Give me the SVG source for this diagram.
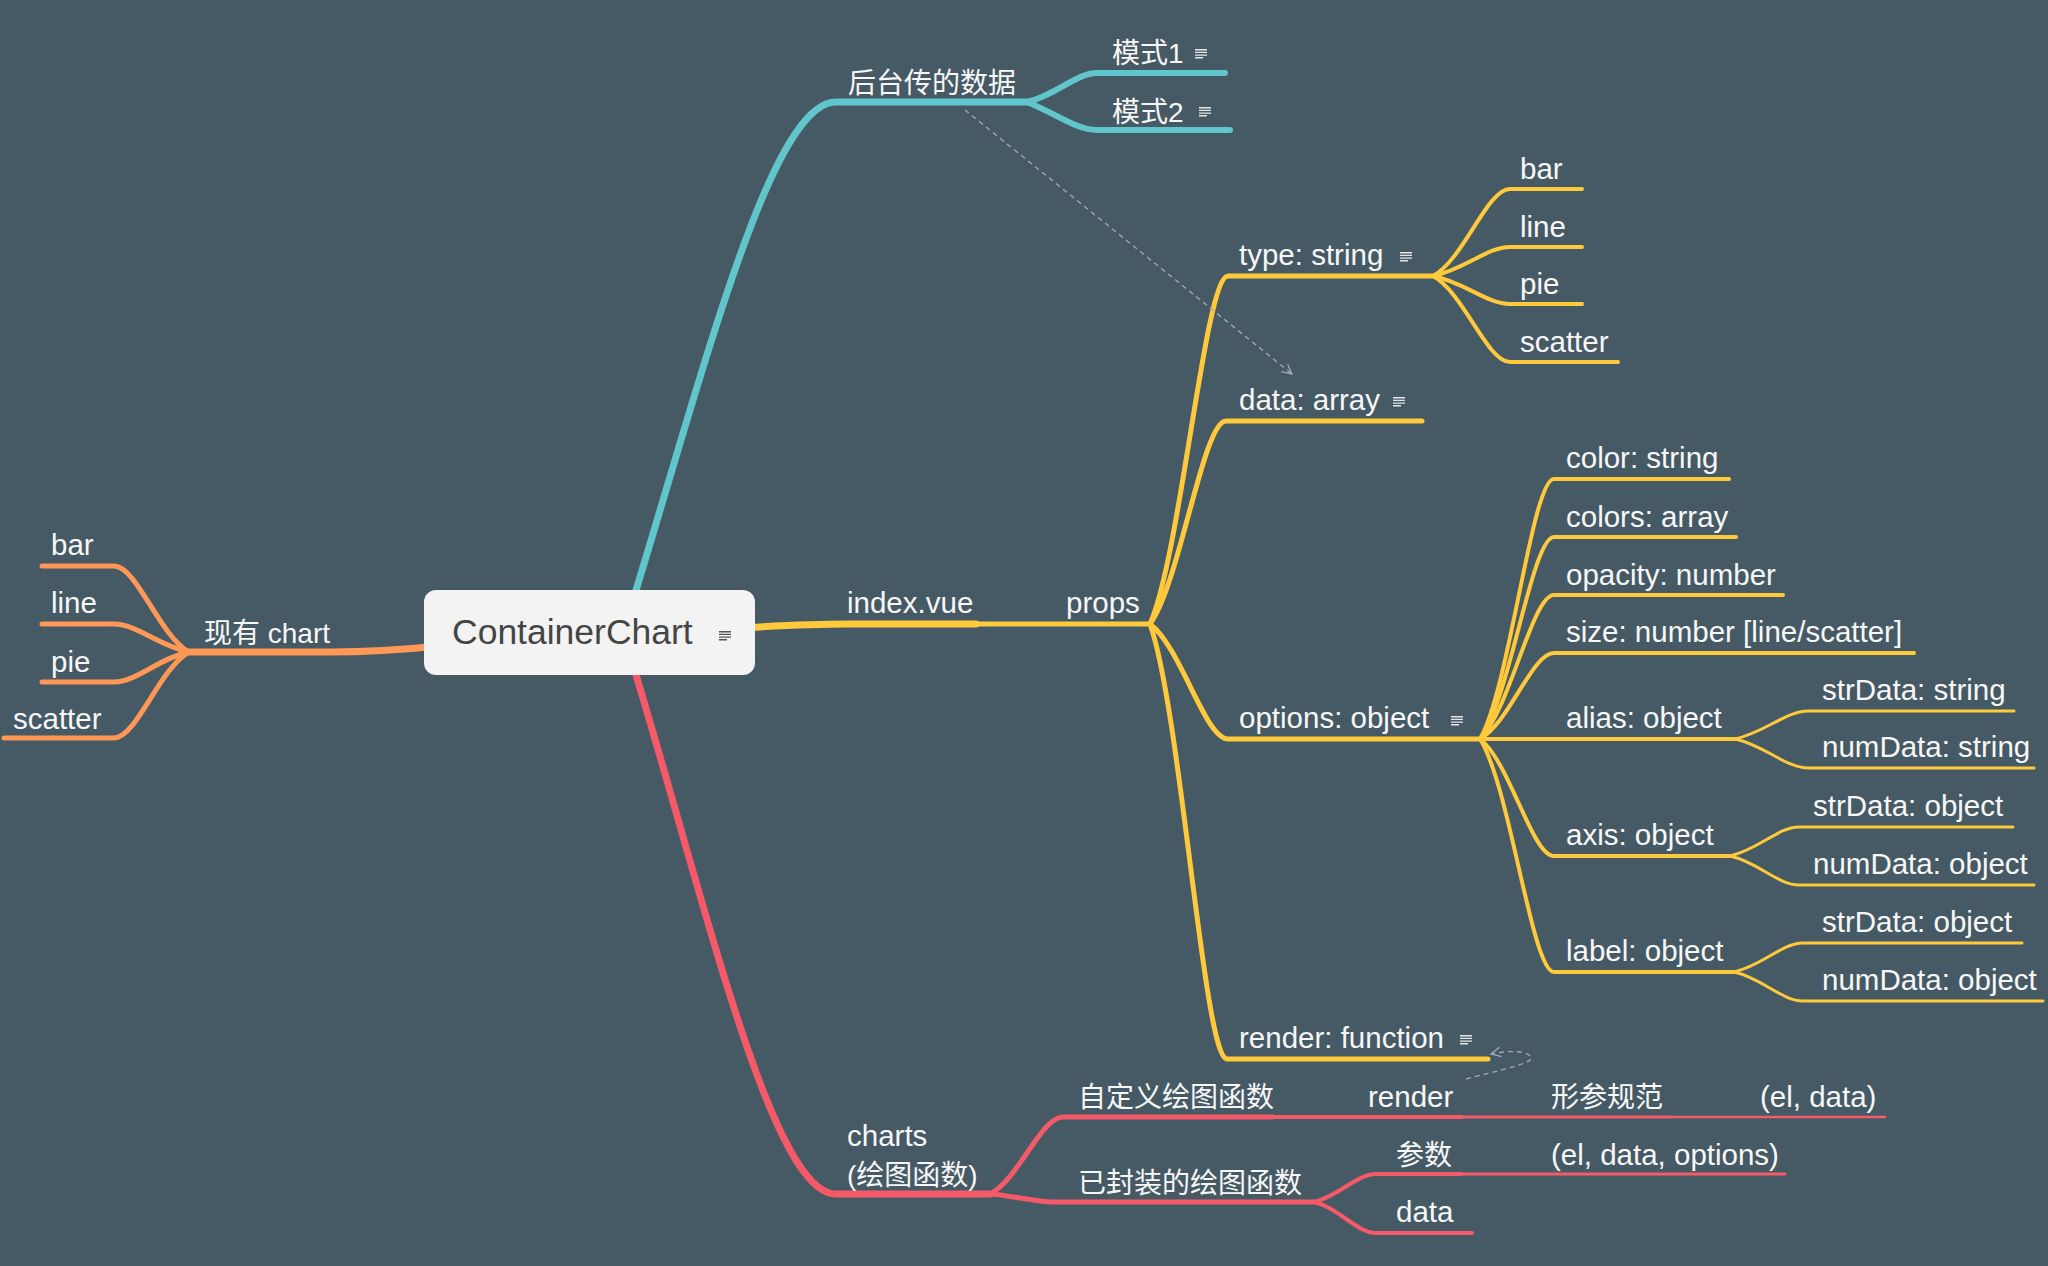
<svg xmlns="http://www.w3.org/2000/svg" xmlns:xlink="http://www.w3.org/1999/xlink" width="2048" height="1266" viewBox="0 0 2048 1266">
<defs>
<style>
.bg{fill:#465a65}
text{font-family:"Liberation Sans","Noto Sans CJK SC",sans-serif;font-size:29.5px;fill:#f7f7f7}
text.cjk{font-size:28px}
.c{fill:none;stroke-linecap:round;stroke-linejoin:round}
.o{stroke:#ff9757}
.t{stroke:#61c6cb}
.y{stroke:#ffc93c}
.r{stroke:#f65a69}
.w7{stroke-width:7}
.w6{stroke-width:6}
.w5{stroke-width:5}
.w4{stroke-width:4}
.w3{stroke-width:3}
.dash{fill:none;stroke:#a3abb0;stroke-width:1.3;stroke-dasharray:5 4}
.ni{stroke:#e3e6e8;stroke-width:1.4;fill:none}
.nid{stroke:#555;stroke-width:1.4;fill:none}
.root-box{fill:#f3f3f3}
text.root-text{font-size:35.5px;fill:#454545}
</style>
<g id="note"><path d="M0 0.7H12M0 3.4H12M0 6.1H12M0 8.8H8"/></g>
<marker id="arrow" viewBox="0 0 10 10" refX="9" refY="5" markerWidth="12" markerHeight="12" markerUnits="userSpaceOnUse" orient="auto"><path d="M1 1 L9 5 L1 9" fill="none" stroke="#a3abb0" stroke-width="1.1"/></marker>
</defs>
<rect class="bg" x="0" y="0" width="2048" height="1266"/>

<g id="connectors">
  <!-- orange -->
  <path class="c o w7" d="M440 646 C400 650 365 652 330 652 L189 652"/>
  <path class="c o w5" d="M189 652 C159 635 136.5 566 114 566 L42 566"/>
  <path class="c o w5" d="M189 652 C159 646 136.5 624 114 624 L42 624"/>
  <path class="c o w5" d="M189 652 C159 658 136.5 682 114 682 L42 682"/>
  <path class="c o w5" d="M189 652 C159 669 136.5 738 114 738 L4 738"/>
  <!-- teal -->
  <path class="c t w7" d="M630 610 C705 366 771 102 836 102 L1027 102"/>
  <path class="c t w6" d="M1027 102 C1055 96 1076 73 1097 73 L1225 73"/>
  <path class="c t w6" d="M1027 102 C1055 113 1076 130 1097 130 L1230 130"/>
  <!-- yellow -->
  <path class="c y w7" d="M740 628 C790 625 815 624 847 624 L976 624"/>
  <path class="c y w5" d="M976 624 L1150 624"/>
  <path class="c y w5" d="M1150 624 C1181 554 1205 276 1228 276 L1433 276"/>
  <path class="c y w5" d="M1150 624 C1180 583 1203 421 1226 421 L1422 421"/>
  <path class="c y w5" d="M1150 624 C1181 647 1205 739 1228 739 L1480 739"/>
  <path class="c y w5" d="M1150 624 C1181 711 1204 1059 1227 1059 L1488 1059"/>
  <path class="c y w4" d="M1433 276 C1464 259 1487 189 1510 189 L1582 189"/>
  <path class="c y w4" d="M1433 276 C1464 270 1487 247 1510 247 L1582 247"/>
  <path class="c y w4" d="M1433 276 C1464 282 1487 304 1510 304 L1582 304"/>
  <path class="c y w4" d="M1433 276 C1464 293 1487 362 1510 362 L1618 362"/>
  <path class="c y w4" d="M1480 739 C1510 687 1532 479 1554 479 L1729 479"/>
  <path class="c y w4" d="M1480 739 C1510 699 1532 537 1554 537 L1736 537"/>
  <path class="c y w4" d="M1480 739 C1510 710 1532 595 1554 595 L1783 595"/>
  <path class="c y w4" d="M1480 739 C1510 722 1532 653 1554 653 L1914 653"/>
  <path class="c y w4" d="M1480 739 L1735 739"/>
  <path class="c y w4" d="M1480 739 C1510 762 1532 856 1554 856 L1730 856"/>
  <path class="c y w4" d="M1480 739 C1510 786 1532 972 1554 972 L1734 972"/>
  <path class="c y w3" d="M1735 739 C1764 733 1786 711 1808 711 L2014 711"/>
  <path class="c y w3" d="M1735 739 C1764 745 1786 768 1808 768 L2034 768"/>
  <path class="c y w3" d="M1730 856 C1758 850 1778 827 1799 827 L2013 827"/>
  <path class="c y w3" d="M1730 856 C1758 862 1778 885 1799 885 L2034 885"/>
  <path class="c y w3" d="M1734 972 C1762 966 1782 943 1803 943 L2022 943"/>
  <path class="c y w3" d="M1734 972 C1762 978 1782 1001 1803 1001 L2043 1001"/>
  <!-- red -->
  <path class="c r w7" d="M630 655 C705 900 771 1194 836 1194 L990 1194"/>
  <path class="c r w5" d="M990 1194 C1019 1179 1041 1117 1063 1117 L1273 1117"/>
  <path class="c r w4" d="M1273 1117 L1461 1117"/>
  <path class="c r w3" d="M1461 1117 L1670 1117"/>
  <path class="c r" style="stroke-width:2.5" d="M1670 1117 L1885 1117"/>
  <path class="c r w5" d="M990 1194 C1015 1196 1035 1202 1053 1202 L1314 1202"/>
  <path class="c r w4" d="M1314 1202 C1339 1196 1357 1174 1376 1174 L1461 1174"/>
  <path class="c r w3" d="M1461 1174 L1785 1174"/>
  <path class="c r w4" d="M1314 1202 C1339 1208 1357 1233 1376 1233 L1472 1233"/>
  <!-- dashed relations -->
  <path class="dash" d="M965 110 L1292 374" marker-end="url(#arrow)"/>
  <path class="dash" d="M1466 1079 C1500 1070 1535 1063 1531 1057 C1528 1051 1510 1050 1491 1054" marker-end="url(#arrow)"/>
</g>

<g id="node-root">
  <rect class="root-box" x="424" y="590" width="331" height="85" rx="12"/>
  <text class="root-text" x="452" y="644">ContainerChart</text>
  <use href="#note" xlink:href="#note" class="nid" x="719" y="631"/>
</g>

<g id="node-current-chart"><text class="cjk" x="204" y="643">现有 chart</text></g>
<g id="node-cc-bar"><text x="51" y="555">bar</text></g>
<g id="node-cc-line"><text x="51" y="613">line</text></g>
<g id="node-cc-pie"><text x="51" y="672">pie</text></g>
<g id="node-cc-scatter"><text x="13" y="729">scatter</text></g>

<g id="node-backend"><text class="cjk" x="848" y="93">后台传的数据</text></g>
<g id="node-mode1"><text class="cjk" x="1112" y="63">模式1</text><use href="#note" xlink:href="#note" class="ni" x="1195" y="49"/></g>
<g id="node-mode2"><text class="cjk" x="1112" y="122">模式2</text><use href="#note" xlink:href="#note" class="ni" x="1199" y="107"/></g>

<g id="node-index"><text x="847" y="613">index.vue</text></g>
<g id="node-props"><text x="1066" y="613">props</text></g>
<g id="node-type"><text x="1239" y="265">type: string</text><use href="#note" xlink:href="#note" class="ni" x="1400" y="252"/></g>
<g id="node-type-bar"><text x="1520" y="179">bar</text></g>
<g id="node-type-line"><text x="1520" y="237">line</text></g>
<g id="node-type-pie"><text x="1520" y="294">pie</text></g>
<g id="node-type-scatter"><text x="1520" y="352">scatter</text></g>
<g id="node-data"><text x="1239" y="410">data: array</text><use href="#note" xlink:href="#note" class="ni" x="1393" y="397"/></g>
<g id="node-options"><text x="1239" y="728">options: object</text><use href="#note" xlink:href="#note" class="ni" x="1451" y="716"/></g>
<g id="node-render"><text x="1239" y="1048">render: function</text><use href="#note" xlink:href="#note" class="ni" x="1460" y="1035"/></g>

<g id="node-color"><text x="1566" y="468">color: string</text></g>
<g id="node-colors"><text x="1566" y="527">colors: array</text></g>
<g id="node-opacity"><text x="1566" y="585">opacity: number</text></g>
<g id="node-size"><text x="1566" y="642">size: number [line/scatter]</text></g>
<g id="node-alias"><text x="1566" y="728">alias: object</text></g>
<g id="node-axis"><text x="1566" y="845">axis: object</text></g>
<g id="node-label"><text x="1566" y="961">label: object</text></g>
<g id="node-alias-str"><text x="1822" y="700">strData: string</text></g>
<g id="node-alias-num"><text x="1822" y="757">numData: string</text></g>
<g id="node-axis-str"><text x="1813" y="816">strData: object</text></g>
<g id="node-axis-num"><text x="1813" y="874">numData: object</text></g>
<g id="node-label-str"><text x="1822" y="932">strData: object</text></g>
<g id="node-label-num"><text x="1822" y="990">numData: object</text></g>

<g id="node-charts"><text x="847" y="1146">charts</text><text class="cjk" x="847" y="1185">(绘图函数)</text></g>
<g id="node-custom"><text class="cjk" x="1078" y="1107">自定义绘图函数</text></g>
<g id="node-custom-render"><text x="1368" y="1107">render</text></g>
<g id="node-param-spec"><text class="cjk" x="1551" y="1107">形参规范</text></g>
<g id="node-el-data"><text x="1760" y="1107">(el, data)</text></g>
<g id="node-builtin"><text class="cjk" x="1078" y="1193">已封装的绘图函数</text></g>
<g id="node-params"><text class="cjk" x="1396" y="1165">参数</text></g>
<g id="node-el-data-options"><text x="1551" y="1165">(el, data, options)</text></g>
<g id="node-builtin-data"><text x="1396" y="1222">data</text></g>
</svg>
